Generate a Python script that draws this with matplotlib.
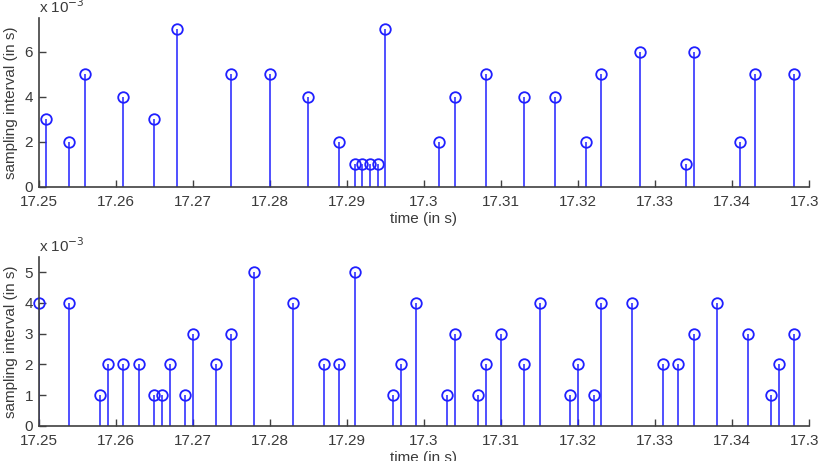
import numpy as np
import matplotlib
matplotlib.use('Agg')
from matplotlib import pyplot as plt
from matplotlib.ticker import FuncFormatter

# top panel: sample times (s) and sampling intervals (s)
top_time = [17.251, 17.254, 17.256, 17.261, 17.265, 17.268, 17.275, 17.280, 17.285, 17.289,
            17.291, 17.292, 17.293, 17.294, 17.295, 17.302, 17.304, 17.308, 17.313, 17.317,
            17.321, 17.323, 17.328, 17.334, 17.335, 17.341, 17.343, 17.348]
top_interval = [0.003, 0.002, 0.005, 0.004, 0.003, 0.007, 0.005, 0.005, 0.004, 0.002,
                0.001, 0.001, 0.001, 0.001, 0.007, 0.002, 0.004, 0.005, 0.004, 0.004,
                0.002, 0.005, 0.006, 0.001, 0.006, 0.002, 0.005, 0.005]

# bottom panel
bot_time = [17.250, 17.254, 17.258, 17.259, 17.261, 17.263, 17.265, 17.266, 17.267, 17.269,
            17.270, 17.273, 17.275, 17.278, 17.283, 17.287, 17.289, 17.291, 17.296, 17.297,
            17.299, 17.303, 17.304, 17.307, 17.308, 17.310, 17.313, 17.315, 17.319, 17.320,
            17.322, 17.323, 17.327, 17.331, 17.333, 17.335, 17.338, 17.342, 17.345, 17.346,
            17.348]
bot_interval = [0.004, 0.004, 0.001, 0.002, 0.002, 0.002, 0.001, 0.001, 0.002, 0.001,
                0.003, 0.002, 0.003, 0.005, 0.004, 0.002, 0.002, 0.005, 0.001, 0.002,
                0.004, 0.001, 0.003, 0.001, 0.002, 0.003, 0.002, 0.004, 0.001, 0.002,
                0.001, 0.004, 0.004, 0.002, 0.002, 0.003, 0.004, 0.003, 0.001, 0.002,
                0.003]

x_ticks = [17.25, 17.26, 17.27, 17.28, 17.29, 17.3, 17.31, 17.32, 17.33, 17.34, 17.35]
x_ticklabels = ['17.25', '17.26', '17.27', '17.28', '17.29', '17.3',
                '17.31', '17.32', '17.33', '17.34', '17.35']

plt.rcParams['font.family'] = ['Liberation Sans', 'DejaVu Sans']
plt.rcParams['font.size'] = 11
txt = '#3a3a3a'
axcol = '#404040'

fig = plt.figure(figsize=(8.2, 4.61), dpi=100)
ax1 = fig.add_axes([0.047, 0.595, 0.940, 0.366])
ax2 = fig.add_axes([0.047, 0.076, 0.940, 0.367])

def panel(ax, t, v, ytop, yticks):
    ml, sl, bl = ax.stem(t, v, linefmt='-', markerfmt='o', basefmt=' ')
    plt.setp(sl, color='#2020ff', linewidth=1.1)
    plt.setp(ml, markerfacecolor='none', markeredgecolor='#2020ff',
             markersize=7.6, markeredgewidth=1.3, clip_on=False)
    ax.set_xlim(17.25, 17.35)
    ax.set_ylim(0, ytop)
    ax.set_xticks(x_ticks)
    ax.set_xticklabels(x_ticklabels)
    ax.set_yticks(yticks)
    ax.yaxis.set_major_formatter(FuncFormatter(lambda y, _: '%g' % round(y * 1e3, 6)))
    for s in ['top', 'right']:
        ax.spines[s].set_visible(False)
    for s in ['left', 'bottom']:
        ax.spines[s].set_color(axcol)
        ax.spines[s].set_linewidth(1.2)
    ax.tick_params(direction='in', length=5, width=1.0, color=axcol,
                   labelcolor=txt, labelsize=11)
    ax.tick_params(axis='x', pad=6)
    ax.tick_params(axis='y', pad=4)
    ax.set_xlabel('time (in s)', color=txt, fontsize=11, labelpad=2)
    ax.set_ylabel('sampling interval (in s)', color=txt, fontsize=11)
    ax.yaxis.set_label_coords(-0.027, 0.5)
    ax.text(0.0, 1.012, r'x 10$^{-3}$', transform=ax.transAxes, ha='left',
            va='bottom', color=txt, fontsize=11)

panel(ax1, top_time, top_interval, 0.0075, [0, 0.002, 0.004, 0.006])
panel(ax2, bot_time, bot_interval, 0.0055, [0, 0.001, 0.002, 0.003, 0.004, 0.005])

fig.savefig('out.png', dpi=100)
